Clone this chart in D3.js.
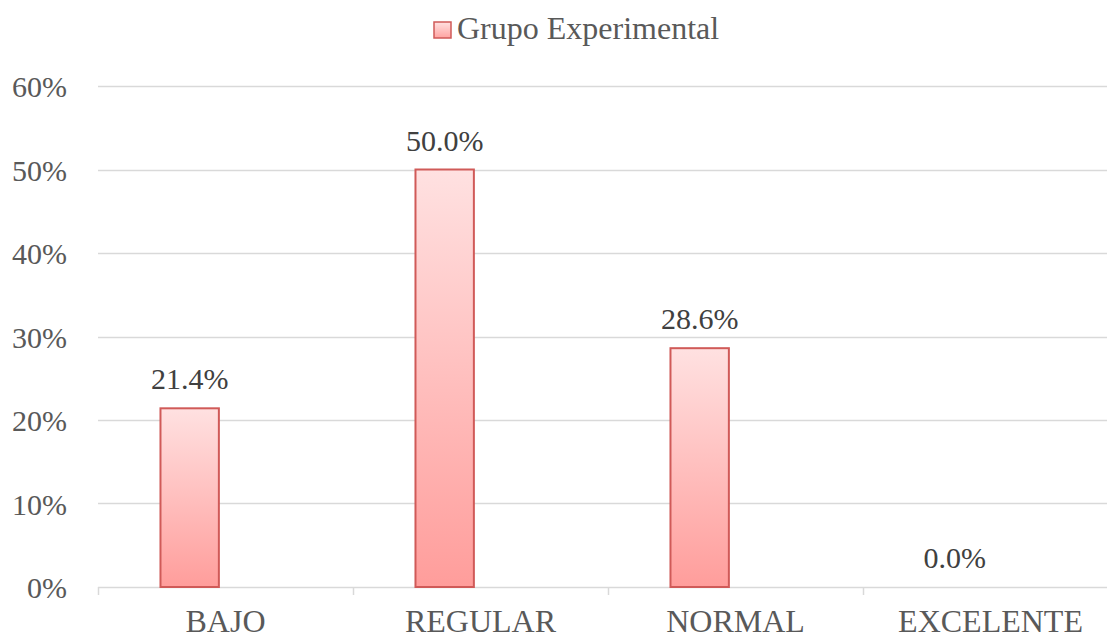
<!DOCTYPE html>
<html>
<head>
<meta charset="utf-8">
<script src="https://cdn.jsdelivr.net/npm/d3@7"></script>
<style>
  html, body { margin: 0; padding: 0; background: #ffffff; }
  svg { display: block; }
  text { font-family: "Liberation Serif", "Times New Roman", serif; }
</style>
</head>
<body>
<svg id="chart" width="1107" height="637"></svg>
<script>
// Performance levels and the share of the experimental group in each
const categories = ["BAJO", "REGULAR", "NORMAL", "EXCELENTE"];
const seriesName = "Grupo Experimental";
const values = [0.214, 0.50, 0.286, 0.0];
const valueLabels = ["21.4%", "50.0%", "28.6%", "0.0%"];
const yTicks = [0, 0.1, 0.2, 0.3, 0.4, 0.5, 0.6];

const svg = d3.select("#chart");
const plot = { left: 98, right: 1118, top: 86, bottom: 587 };

const x = d3.scaleBand().domain(categories).range([plot.left, plot.right]).padding(0);
// two slots per category; the series occupies the first one
const slot = d3.scaleBand().domain([seriesName, "_"]).range([0, x.bandwidth()])
  .paddingInner(0.185).paddingOuter(0.872);
const y = d3.scaleLinear().domain([0, 0.6]).range([plot.bottom, plot.top]);

const textColor = "#595959";
const wordSize = "32px";
const numSize = "30px";

// gradients for bars and legend key
const defs = svg.append("defs");
const grad = defs.append("linearGradient").attr("id", "barFill")
  .attr("x1", 0).attr("y1", 0).attr("x2", 0).attr("y2", 1);
grad.append("stop").attr("offset", "0%").attr("stop-color", "#ffe1e1");
grad.append("stop").attr("offset", "100%").attr("stop-color", "#ff9d9b");

const gradLeg = defs.append("linearGradient").attr("id", "legFill")
  .attr("x1", 0).attr("y1", 0).attr("x2", 0).attr("y2", 1);
gradLeg.append("stop").attr("offset", "0%").attr("stop-color", "#ffe1e1");
gradLeg.append("stop").attr("offset", "100%").attr("stop-color", "#ffa3a1");

// gridlines
svg.append("g")
  .selectAll("line")
  .data(yTicks.slice(1))
  .join("line")
  .attr("x1", plot.left).attr("x2", plot.right)
  .attr("y1", d => Math.round(y(d)) + 0.5).attr("y2", d => Math.round(y(d)) + 0.5)
  .attr("stroke", "#d9d9d9").attr("stroke-width", 1.5);

// y axis labels
const yAxis = d3.axisLeft(y).tickValues(yTicks).tickFormat(d3.format(".0%")).tickSize(0).tickPadding(0);
const gy = svg.append("g").attr("transform", `translate(${plot.left - 31},0)`).call(yAxis);
gy.select(".domain").remove();
gy.selectAll("text")
  .attr("fill", textColor)
  .style("font-size", numSize)
  .style("font-family", '"Liberation Serif", "Times New Roman", serif')
  .attr("dy", "0.35em");

// x axis
const xAxis = d3.axisBottom(x).tickSize(0).tickPadding(0);
const gx = svg.append("g").attr("transform", `translate(0,${plot.bottom})`).call(xAxis);
gx.select(".domain").attr("stroke", "#d9d9d9").attr("stroke-width", 1.5)
  .attr("d", `M${plot.left},0.5H${plot.right}`);
gx.selectAll(".tick line").remove();
gx.selectAll("text")
  .attr("fill", textColor)
  .attr("y", 45)
  .attr("dy", 0)
  .style("font-size", wordSize)
  .style("font-family", '"Liberation Serif", "Times New Roman", serif');
// category separators
svg.append("g")
  .selectAll("line")
  .data(categories)
  .join("line")
  .attr("x1", d => x(d) + 0.5).attr("x2", d => x(d) + 0.5)
  .attr("y1", plot.bottom).attr("y2", plot.bottom + 8)
  .attr("stroke", "#d9d9d9").attr("stroke-width", 1.5);

const rows = values.map((v, i) => ({ c: categories[i], v, label: valueLabels[i] }));

// bars
svg.append("g").selectAll("rect")
  .data(rows.filter(d => d.v > 0))
  .join("rect")
  .attr("x", d => x(d.c) + slot(seriesName))
  .attr("width", slot.bandwidth())
  .attr("y", d => y(d.v))
  .attr("height", d => y(0) - y(d.v))
  .attr("fill", "url(#barFill)")
  .attr("stroke", "#d05a58")
  .attr("stroke-width", 2);

// value labels
svg.append("g").selectAll("text")
  .data(rows)
  .join("text")
  .attr("x", d => x(d.c) + slot(seriesName) + slot.bandwidth() / 2)
  .attr("y", d => y(d.v) - 19)
  .attr("text-anchor", "middle")
  .attr("fill", "#404040")
  .style("font-size", numSize)
  .text(d => d.label);

// legend
const leg = svg.append("g").attr("transform", "translate(434,22)");
leg.append("rect").attr("width", 17).attr("height", 16)
  .attr("fill", "url(#legFill)").attr("stroke", "#d05a58").attr("stroke-width", 1.5);
leg.append("text").attr("x", 23).attr("y", 17)
  .attr("fill", textColor).style("font-size", wordSize).text(seriesName);
</script>
</body>
</html>
